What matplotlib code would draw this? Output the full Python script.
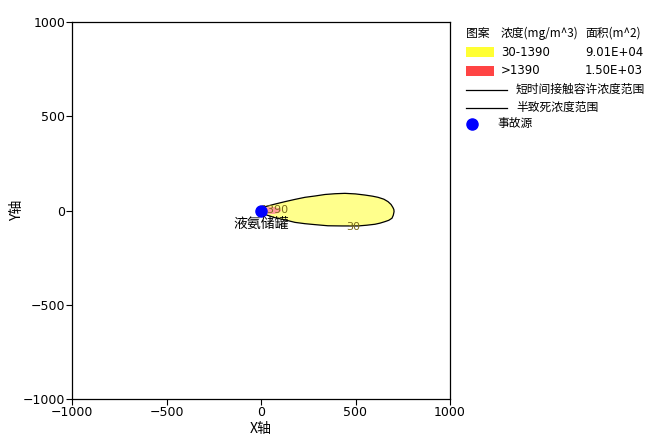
import matplotlib
matplotlib.use("Agg")
import matplotlib.pyplot as plt
from matplotlib.patches import Rectangle
from matplotlib.lines import Line2D

plt.rcParams['font.family'] = ['Noto Sans CJK SC', 'DejaVu Sans']

# Outer contour (30 mg/m^3) boundary
plume_x = [0, 21, 74, 127, 180, 233, 286, 339, 392, 444, 500, 550, 590, 619, 650, 672, 688, 698, 703, 704,
           700, 693, 676, 656, 630, 603, 560, 513, 429, 354, 286, 233, 180, 127, 74, 30, 0]
plume_y = [0, 20, 34, 47, 59, 70, 77, 85, 89, 91, 88, 82, 76, 70, 60, 47, 32, 16, 5, -6,
           -25, -41, -52, -59, -67, -73, -78, -82, -82, -81, -75, -70, -63, -50, -38, -24, 0]

# Inner contour (1390 mg/m^3) boundary
core_x = [0, 15, 40, 70, 95, 108, 95, 70, 40, 15, 0]
core_y = [0, 12, 18, 18, 12, 0, -12, -18, -18, -12, 0]

source_x = [0]
source_y = [0]
source_name = "液氨储罐"

contour_labels = ["30", "1390"]
contour_label_x = [487, 74]
contour_label_y = [-87, 2]

legend_header = ["图案", "浓度(mg/m^3)", "面积(m^2)"]
legend_ranges = ["30-1390", ">1390"]
legend_areas = ["9.01E+04", "1.50E+03"]
legend_lines = ["短时间接触容许浓度范围", "半致死浓度范围"]
legend_source = "事故源"

ticks = [-1000, -500, 0, 500, 1000]

W, H = 654, 447
fig = plt.figure(figsize=(W / 100, H / 100), dpi=100)
ax = fig.add_axes([72 / W, 1 - 399 / H, 378 / W, 377 / H])

ax.fill(plume_x, plume_y, facecolor='#FFFF8C', edgecolor='black', linewidth=0.9,
        joinstyle='round', zorder=2)
ax.fill(core_x, core_y, facecolor='#FF9A9A', edgecolor='none', linewidth=0, zorder=3)
for t, x, y in zip(contour_labels, contour_label_x, contour_label_y):
    ax.text(x, y, t, color='#7A6A18', fontsize=8, ha='center', va='center',
            family=['DejaVu Sans'], zorder=4)
ax.plot(source_x, source_y, 'o', color='#0000FF', markersize=8, zorder=5)
ax.text(source_x[0], source_y[0] - 72, source_name, fontsize=10, ha='center',
        va='center', zorder=6)

ax.set_xlim(-1000, 1000)
ax.set_ylim(-1000, 1000)
ax.set_xticks(ticks)
ax.set_yticks(ticks)
ax.set_xticklabels([str(t).replace('-', '\u2212') for t in ticks], family=['DejaVu Sans'])
ax.set_yticklabels([str(t).replace('-', '\u2212') for t in ticks], family=['DejaVu Sans'])
ax.tick_params(direction='out', length=4, width=0.8, labelsize=9, pad=1)
ax.set_xlabel("X轴", fontsize=10)
ax.set_ylabel("Y轴", fontsize=10)
ax.xaxis.set_label_coords(0.5, -0.062)
ax.yaxis.set_label_coords(-0.127, 0.5)
for s in ax.spines.values():
    s.set_linewidth(0.9)

# Legend drawn in figure pixel coords
def fx(px):
    return px / W

def fy(py):
    return 1 - py / H

fs = 8.5
fig.text(fx(466), fy(33), legend_header[0], fontsize=fs, va='center')
fig.text(fx(501), fy(33), legend_header[1], fontsize=fs, va='center')
fig.text(fx(585), fy(33), legend_header[2], fontsize=fs, va='center')

patch_colors = ['#FFFF33', '#FF4444']
row_y = [52, 71]
for c, r, a, py in zip(patch_colors, legend_ranges, legend_areas, row_y):
    fig.patches.append(Rectangle((fx(466), fy(py + 5)), 28 / W, 10 / H,
                                 facecolor=c, edgecolor='none',
                                 transform=fig.transFigure, figure=fig))
    fig.text(fx(501), fy(py), r, fontsize=fs, va='center', family=['DejaVu Sans'])
    fig.text(fx(585), fy(py), a, fontsize=fs, va='center', family=['DejaVu Sans'])

for t, py in zip(legend_lines, [89, 107]):
    fig.lines.append(Line2D([fx(466), fx(507)], [fy(py + 1), fy(py + 1)], color='black',
                            linewidth=0.9, transform=fig.transFigure, figure=fig))
    fig.text(fx(516), fy(py), t, fontsize=fs, va='center')

fig.lines.append(Line2D([fx(472)], [fy(124)], marker='o', color='#0000FF', markersize=8,
                        linestyle='none', transform=fig.transFigure, figure=fig))
fig.text(fx(497), fy(124), legend_source, fontsize=fs, va='center')

fig.savefig("out.png", dpi=100)
